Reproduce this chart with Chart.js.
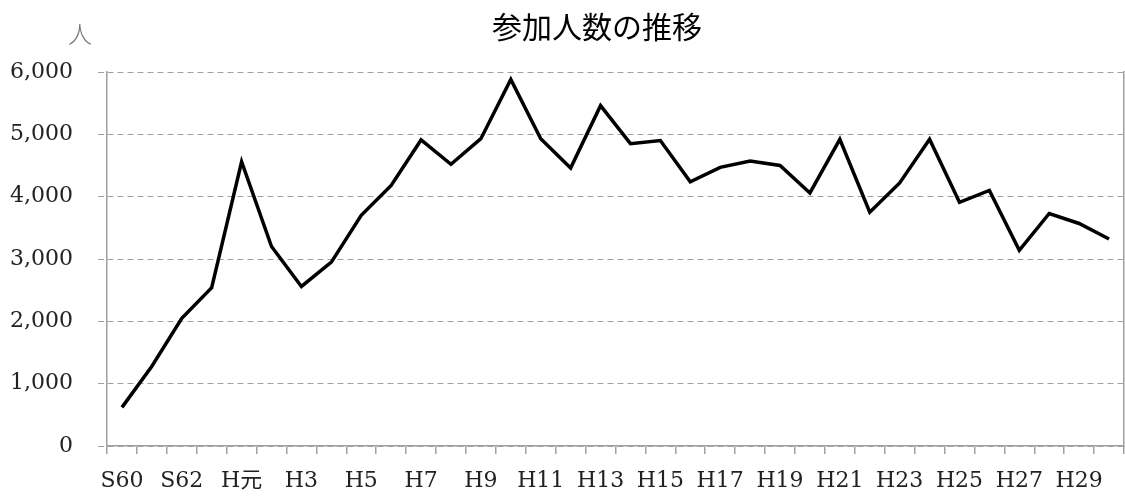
<!DOCTYPE html>
<html>
<head>
<meta charset="utf-8">
<script src="https://cdn.jsdelivr.net/npm/chart.js@4/dist/chart.umd.min.js"></script>
<style>
  html, body { margin: 0; padding: 0; background: #fff; }
  #wrap { width: 1125px; height: 497px; }
</style>
</head>
<body>
<div id="wrap"><canvas id="suii_grafik"></canvas></div>
<script>
// 年度 (S60 - H30)
const nendo = ['S60', 'S61', 'S62', 'S63', 'H元', 'H2', 'H3', 'H4', 'H5', 'H6',
  'H7', 'H8', 'H9', 'H10', 'H11', 'H12', 'H13', 'H14', 'H15', 'H16',
  'H17', 'H18', 'H19', 'H20', 'H21', 'H22', 'H23', 'H24', 'H25', 'H26',
  'H27', 'H28', 'H29', 'H30'];

// 参加人数
const sankaNinzu = [620, 1280, 2050, 2540, 4560, 3200, 2560, 2950, 3700, 4180,
  4910, 4520, 4930, 5880, 4930, 4460, 5460, 4850, 4900, 4240,
  4470, 4570, 4500, 4060, 4920, 3750, 4220, 4920, 3910, 4100,
  3140, 3730, 3570, 3320];

const yTicks = [0, 1000, 2000, 3000, 4000, 5000, 6000];
const titleText = '参加人数の推移';
const unitText = '人';

const serif = '"DejaVu Serif", "Liberation Serif", "Noto Sans CJK JP", serif';

// タイトルと単位を描く
const textPlugin = {
  id: 'textPlugin',
  afterDraw(chart) {
    const ctx = chart.ctx;
    ctx.save();
    ctx.textAlign = 'center';
    ctx.textBaseline = 'middle';
    ctx.fillStyle = '#000';
    ctx.font = 'normal 30px "Noto Sans CJK JP", sans-serif';
    ctx.fillText(titleText, 597, 27);
    ctx.fillStyle = '#777';
    ctx.font = '300 24px "Noto Sans CJK JP", sans-serif';
    ctx.fillText(unitText, 80, 34);
    ctx.restore();
  }
};

new Chart(document.getElementById('suii_grafik'), {
  type: 'line',
  data: {
    labels: nendo,
    datasets: [{
      label: '参加人数',
      data: sankaNinzu,
      borderColor: '#000',
      borderWidth: 3.5,
      pointRadius: 0,
      tension: 0,
      fill: false
    }]
  },
  options: {
    responsive: true,
    maintainAspectRatio: false,
    animation: false,
    layout: {
      padding: { top: 72, left: 0, right: 1, bottom: 0 }
    },
    plugins: {
      legend: { display: false },
      title: { display: false },
      tooltip: { enabled: false }
    },
    scales: {
      x: {
        offset: true,
        afterFit(scale) { scale.height = 51; },
        grid: {
          offset: true,
          drawOnChartArea: false,
          drawTicks: true,
          tickLength: 8,
          color: '#a0a0a0',
          lineWidth: 1.5
        },
        border: { color: '#a0a0a0', width: 1.5 },
        ticks: {
          autoSkip: false,
          maxRotation: 0,
          padding: 14,
          color: '#222',
          font: { family: serif, size: 22 },
          callback: function (val, i) {
            return i % 2 === 0 ? this.getLabelForValue(val) : '';
          }
        }
      },
      y: {
        min: 0,
        max: 6000,
        afterFit(scale) { scale.width = 107; },
        afterBuildTicks(scale) {
          scale.ticks = yTicks.map(v => ({ value: v }));
        },
        grid: {
          color: '#a0a0a0',
          lineWidth: 1,
          tickLength: 9,
          tickBorderDash: [6, 4],
          tickColor: '#a0a0a0'
        },
        border: { display: true, color: '#a0a0a0', width: 1.5, dash: [6, 4] },
        ticks: {
          padding: 25,
          color: '#222',
          font: { family: serif, size: 22 },
          callback: v => v.toLocaleString('en-US')
        }
      },
      y2: {
        position: 'right',
        min: 0,
        max: 6000,
        afterFit(scale) { scale.width = 0; },
        grid: { drawOnChartArea: false, drawTicks: false },
        border: { display: true, color: '#a0a0a0', width: 1.5 },
        ticks: { display: false }
      }
    }
  },
  plugins: [textPlugin]
});
</script>
</body>
</html>
